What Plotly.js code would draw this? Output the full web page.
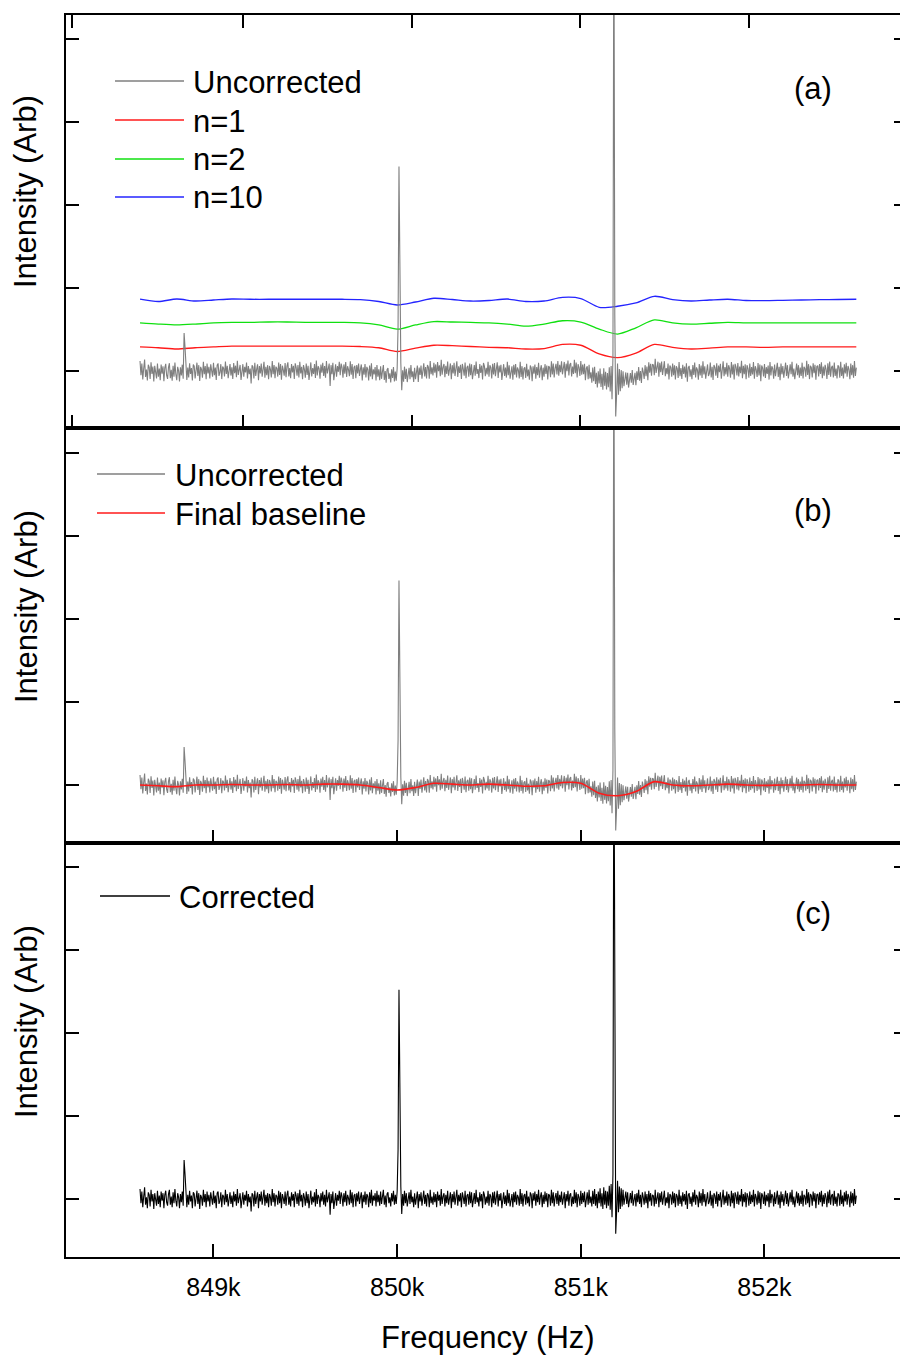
<!DOCTYPE html>
<html><head><meta charset="utf-8">
<script src="https://cdn.plot.ly/plotly-3.0.1.min.js"></script>
<style>html,body{margin:0;padding:0;overflow:hidden;background:#fff}#chart{width:908px;height:1355px}</style>
</head><body><div id="chart"></div>
<script>
// ---- data ----
const freqStart = 848600, freqStep = 5; // Hz, spectrum sampling
const correctedSignal = [
 .12,-.05,.09,-.10,.03,.14,-.07,.02,-.11,.08,.05,-.09,.11,-.03,.06,-.12,.07,.01,-.08,.10,
 -.06,.04,-.10,.09,-.02,.07,-.11,.05,.10,-.04,-.08,.06,.11,-.07,.03,-.10,.08,-.05,.12,-.02,
 -.09,.07,.02,-.11,.06,-.04,.09,-.08,.47,.30,.12,-.10,.05,-.07,.10,-.03,.04,-.11,.08,.06,
 -.09,.03,.10,-.06,.07,-.12,.05,.02,-.08,.11,-.04,.06,-.10,.09,-.03,.05,-.09,.08,.01,-.07,
 .10,-.05,.04,-.11,.07,.09,-.06,-.02,.08,-.10,.05,.03,-.07,.11,-.04,.06,-.09,.02,.08,-.06,
 .04,-.10,.09,-.03,.06,-.08,.12,-.05,.01,.07,-.11,.04,.08,-.07,.05,-.02,.10,-.09,.06,-.04,
 .03,-.15,.07,.05,-.09,.10,-.06,.02,.08,-.11,.06,-.03,.09,-.07,.04,.11,-.08,.05,-.05,.07,
 -.10,.06,.02,-.08,.12,-.04,.07,-.09,.05,.03,-.07,.10,-.05,.08,-.11,.06,.01,-.06,.09,-.08,
 .05,.10,-.07,.03,-.09,.08,-.02,.06,-.10,.09,.04,-.06,.07,-.08,.11,-.03,.05,-.10,.07,.02,
 -.08,.09,-.05,.06,-.11,.04,.10,-.07,.03,-.04,.08,-.09,.12,-.06,.05,.02,-.10,.07,-.03,.09,
 -.07,.05,-.09,.11,-.04,.02,.08,-.19,.06,-.05,.09,-.12,.04,.07,-.08,.05,-.02,.10,-.06,.08,
 .03,-.09,.07,-.04,.10,-.08,.05,.01,-.07,.11,-.05,.08,-.10,.04,.06,-.09,.07,-.03,.09,-.06,
 .02,.08,-.11,.05,-.04,.09,-.07,.06,.03,-.10,.08,-.05,.11,-.08,.04,-.02,.07,-.09,.10,-.04,
 .05,-.08,.09,-.06,.03,.11,-.07,.04,-.10,.06,.08,-.05,.02,-.09,.07,-.03,.10,-.07,.05,-.06,
 .09,.60,2.52,.55,.15,-.18,.06,-.08,.10,-.05,.07,-.09,.04,.08,-.06,.11,-.04,.03,-.10,.07,
 -.07,.05,.09,-.11,.06,-.03,.08,-.08,.02,.10,-.06,.05,-.09,.07,.04,-.10,.11,-.05,.03,-.07,
 .08,-.04,.06,-.10,.09,-.02,.05,-.08,.12,-.06,.03,.07,-.09,.05,-.05,.10,-.07,.02,.08,-.11,
 .06,-.04,.09,-.07,.03,.11,-.08,.05,-.03,.07,-.10,.08,.02,-.06,.10,-.09,.04,.06,-.07,.09,
 -.05,.08,-.10,.04,.07,-.06,.11,-.04,.02,-.09,.08,-.03,.06,-.11,.09,.05,-.07,.03,-.05,.10,
 -.08,.06,.03,-.10,.08,-.05,.09,-.07,.04,.10,-.09,.06,-.02,.07,-.11,.05,.08,-.06,.04,-.08,
 .11,-.05,.07,-.09,.03,.06,-.10,.08,-.04,.09,-.07,.05,.02,-.08,.12,-.06,.07,-.09,.04,.06,
 -.07,.10,-.05,.03,-.09,.08,.05,-.11,.07,-.02,.09,-.08,.06,-.04,.11,-.07,.03,.08,-.10,.05,
 -.06,.09,-.03,.07,-.10,.06,.04,-.08,.11,-.05,.08,-.09,.02,.07,-.06,.10,-.08,.05,-.04,.09,
 -.07,.04,.08,-.11,.06,-.03,.10,-.08,.05,.07,-.09,.03,-.06,.11,-.05,.08,-.10,.06,.02,-.08,
 .10,-.06,.07,-.04,.09,-.10,.05,.08,-.07,.11,-.05,.03,-.09,.10,-.06,.12,-.08,.06,-.11,.09,
 -.05,.13,-.09,.07,-.12,.14,-.07,.10,-.11,.09,-.08,.16,-.13,.18,-.22,.30,6.0,.80,-.42,-.15,
 .22,-.16,.15,-.12,.13,-.09,.11,-.07,.05,.09,-.06,.08,-.10,.04,.07,-.05,.10,-.08,.03,.06,
 -.09,.07,-.04,.11,-.06,.05,-.10,.08,.02,-.07,.09,-.05,.06,-.11,.10,-.03,.07,-.08,.05,.04,
 -.09,.11,-.06,.03,.08,-.10,.07,-.04,.09,-.07,.05,.10,-.08,.02,-.05,.08,-.11,.06,.04,-.07,
 .09,-.05,.07,-.10,.06,.03,-.08,.11,-.06,.04,-.09,.08,-.03,.06,-.07,.10,-.12,.05,.07,-.06,
 .03,-.09,.08,-.04,.11,-.07,.05,.02,-.10,.09,-.05,.07,-.08,.12,-.04,.06,-.09,.03,.08,-.06,
 -.03,.10,-.08,.05,-.11,.07,.04,-.06,.09,-.09,.06,-.02,.08,-.10,.05,.11,-.07,.04,-.05,.09,
 -.08,.06,.02,-.09,.10,-.05,.07,-.11,.08,.04,-.06,.09,-.07,.05,-.03,.12,-.09,.06,-.04,.08,
 -.10,.07,.03,-.08,.09,-.06,.05,-.04,.11,-.09,.06,.02,-.07,.10,-.05,.08,-.12,.07,.04,-.06,
 .09,-.08,.05,-.03,.07,-.10,.11,-.05,.06,.03,-.09,.08,-.06,.04,.10,-.07,.05,-.11,.09,-.04,
 .06,-.08,.02,.10,-.06,.07,-.09,.05,.08,-.04,.11,-.07,.03,-.10,.06,.09,-.05,.07,-.08,.04,
 -.06,.10,-.09,.05,.03,-.07,.12,-.05,.08,-.10,.06,.04,-.08,.09,-.03,.07,-.11,.05,.06,-.07,
 .08,-.04,.10,-.09,.05,-.06,.07,.02,-.10,.09,-.05,.11,-.07,.04,.06,-.08,.10,-.06,.03,-.09,
 .07,.05,-.08,.11,-.06,.04,-.09,.08,-.03,.10,-.07,.06,.02,-.10,.09,-.05,.07,-.08,.12,-.06,
 .04
];
const baseStart = 848600, baseStep = 100; // Hz, baseline sampling
const finalBaseline = [
 0.00,-0.01,-0.02,0.00,0.00,0.005,0.00,0.00,0.005,0.00,
 0.01,0.01,0.00,-0.03,-0.06,-0.03,0.02,0.01,0.00,0.01,
 0.00,-0.015,-0.01,0.03,0.02,-0.10,-0.13,-0.08,0.04,0.00,
 -0.01,0.00,0.01,0.00,-0.005,0.00,0.00,0.005,0.00,0.00
];
const baselineN1 = [
 0.29,0.28,0.265,0.28,0.29,0.30,0.30,0.30,0.30,0.30,
 0.30,0.30,0.295,0.28,0.235,0.275,0.31,0.305,0.295,0.285,
 0.28,0.265,0.27,0.32,0.31,0.205,0.16,0.215,0.32,0.285,
 0.265,0.275,0.29,0.29,0.285,0.29,0.29,0.29,0.29,0.29
];
const baselineN2 = [
 0.58,0.565,0.555,0.565,0.58,0.585,0.585,0.59,0.59,0.585,
 0.585,0.585,0.58,0.555,0.505,0.555,0.595,0.59,0.585,0.58,
 0.565,0.54,0.565,0.605,0.59,0.505,0.445,0.52,0.615,0.58,
 0.565,0.575,0.585,0.58,0.58,0.58,0.58,0.58,0.58,0.58
];
const baselineN10 = [
 0.865,0.837,0.867,0.843,0.855,0.867,0.864,0.864,0.864,0.864,
 0.864,0.864,0.86,0.837,0.795,0.831,0.876,0.861,0.843,0.849,
 0.867,0.837,0.843,0.886,0.873,0.767,0.78,0.82,0.9,0.861,
 0.843,0.855,0.864,0.849,0.847,0.851,0.855,0.859,0.861,0.864
];
const freqTicks = [849000, 850000, 851000, 852000];
const freqTickText = ['849k', '850k', '851k', '852k'];
const panelAFreqTicks = [848230, 849161, 850081, 850995, 851916];
const intensityTicks = [0, 1, 2, 3, 4];

// ---- derived ----
const freq = correctedSignal.map((_, i) => freqStart + i * freqStep);
const baseFreq = finalBaseline.map((_, i) => baseStart + i * baseStep);
function baselineAt(f) {
  const t = (f - baseStart) / baseStep;
  const i = Math.max(0, Math.min(Math.floor(t), finalBaseline.length - 2));
  const u = t - i;
  return finalBaseline[i] * (1 - u) + finalBaseline[i + 1] * u;
}
const uncorrected = correctedSignal.map((v, i) => v + baselineAt(freq[i]));

// ---- layout geometry ----
const W = 908, H = 1355, L = 66, R = 907, T = 15, B = 1257;
const px = x => (x - L) / (R - L);
const py = y => (B - y) / (B - T);
const FONT = 'Liberation Sans, Arial, Helvetica, sans-serif';
const GRAY = '#7f7f7f', RED = '#ff1a1a', GREEN = '#10e010', BLUE = '#2424ff';

const traces = [
  {x: baseFreq, y: baselineN1, xaxis: 'x3', yaxis: 'y3', mode: 'lines', line: {color: RED, width: 1.3, shape: 'spline', smoothing: 0.8}},
  {x: baseFreq, y: baselineN2, xaxis: 'x3', yaxis: 'y3', mode: 'lines', line: {color: GREEN, width: 1.3, shape: 'spline', smoothing: 0.8}},
  {x: baseFreq, y: baselineN10, xaxis: 'x3', yaxis: 'y3', mode: 'lines', line: {color: BLUE, width: 1.3, shape: 'spline', smoothing: 0.8}},
  {x: freq, y: uncorrected, xaxis: 'x3', yaxis: 'y3', mode: 'lines', line: {color: GRAY, width: 1.1}},
  {x: freq, y: uncorrected, xaxis: 'x2', yaxis: 'y2', mode: 'lines', line: {color: GRAY, width: 1.1}},
  {x: baseFreq, y: finalBaseline, xaxis: 'x2', yaxis: 'y2', mode: 'lines', line: {color: RED, width: 1.6, shape: 'spline', smoothing: 0.8}},
  {x: freq, y: correctedSignal, xaxis: 'x', yaxis: 'y', mode: 'lines', line: {color: '#000', width: 1.1}}
];

const xRange = [848197, 852776];
const axLine = {showline: true, linewidth: 2, linecolor: '#000', ticks: 'inside', ticklen: 13, tickwidth: 2, tickcolor: '#000', showgrid: false, zeroline: false, fixedrange: true};
const yAx = (dom, rng, anchor) => Object.assign({}, axLine, {domain: dom, range: rng, anchor: anchor, mirror: 'ticks', tickmode: 'array', tickvals: intensityTicks, showticklabels: false});

const annotations = [];
const addText = (text, x, y, xanchor, extra) => annotations.push(Object.assign({text: text, xref: 'paper', yref: 'paper', x: px(x), y: py(y), xanchor: xanchor, yanchor: 'middle', showarrow: false, font: {family: FONT, size: 31, color: '#000'}}, extra || {}));
[192, 607, 1022].forEach(yc => addText('Intensity (Arb)', 26, yc, 'center', {textangle: -90}));
addText('Frequency (Hz)', 488, 1337, 'center');
addText('(a)', 813, 88, 'center');
addText('(b)', 813, 510, 'center');
addText('(c)', 813, 913, 'center');
const shapes = [];
const legendItem = (label, color, x0, x1, y, tx) => {
  shapes.push({type: 'line', xref: 'paper', yref: 'paper', x0: px(x0), x1: px(x1), y0: py(y), y1: py(y), line: {color: color, width: 1.5}});
  addText(label, tx - 3, y + 1, 'left');
};
legendItem('Uncorrected', GRAY, 115, 184, 81, 194);
legendItem('n=1', RED, 115, 184, 120, 194);
legendItem('n=2', GREEN, 115, 184, 159, 194);
legendItem('n=10', BLUE, 115, 184, 197, 194);
legendItem('Uncorrected', GRAY, 97, 165, 474, 176);
legendItem('Final baseline', RED, 97, 165, 513, 176);
legendItem('Corrected', '#000', 100, 170, 896, 180);

const layout = {
  width: W, height: H,
  margin: {l: L, r: W - R, t: T, b: H - B, pad: 0},
  paper_bgcolor: '#fff', plot_bgcolor: '#fff',
  showlegend: false,
  font: {family: FONT, color: '#000'},
  xaxis: Object.assign({}, axLine, {anchor: 'y', range: xRange, mirror: true, tickmode: 'array', tickvals: freqTicks, ticktext: freqTickText, tickfont: {family: FONT, size: 25, color: '#000'}, ticklabelstandoff: 7}),
  xaxis2: Object.assign({}, axLine, {anchor: 'y2', matches: 'x', range: xRange, mirror: true, tickmode: 'array', tickvals: freqTicks, showticklabels: false}),
  xaxis3: Object.assign({}, axLine, {anchor: 'y3', matches: 'x', range: xRange, mirror: 'ticks', tickmode: 'array', tickvals: panelAFreqTicks, showticklabels: false}),
  yaxis: yAx([0, py(843)], [-0.699, 4.289], 'x'),
  yaxis2: yAx([py(843), py(428)], [-0.699, 4.301], 'x2'),
  yaxis3: yAx([py(428), 1], [-0.687, 4.289], 'x3'),
  annotations: annotations,
  shapes: shapes
};

Plotly.newPlot('chart', traces, layout, {staticPlot: true, displayModeBar: false});
</script></body></html>
